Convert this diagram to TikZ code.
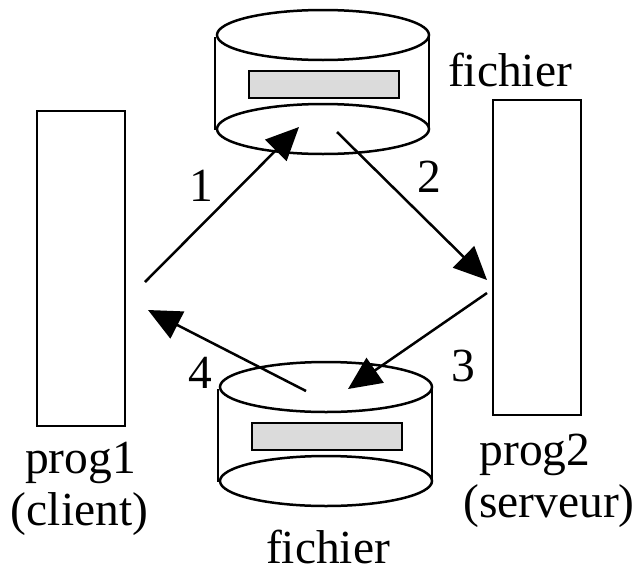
\documentclass[tikz,border=0pt]{standalone}
\usepackage{fontspec}
\setmainfont{Liberation Serif}
\usetikzlibrary{arrows.meta}

\tikzset{
	prog/.style={draw, line width=2.5, minimum width=88, minimum height=315, inner sep=0},
	lbl/.style={anchor=base, inner sep=0, font=\fontsize{47.5}{47.5}\selectfont},
	flow/.style={-{Triangle[length=33,width=30]}, line width=2.5},
}

\begin{document}
\begin{tikzpicture}[x=1pt, y=-1pt]

\useasboundingbox (0,0) rectangle (637,568);

\foreach \x/\y in {323/35, 326/387}{
	\draw[line width=2.5] (\x-108,\y+2)--(\x-108,\y+95);
	\draw[line width=2.5] (\x+106,\y+2)--(\x+106,\y+95);
	\draw[fill=white, line width=2.5] (\x,\y) ellipse (106 and 25);
	\draw[fill=white, line width=2.5] (\x,\y+94) ellipse (106 and 25);
	\draw[fill=black!14!white, line width=2.5] (\x-74,\y+36) rectangle (\x+76,\y+63);
}

\node[prog] (prog1) at (81,268.5) {};
\node[prog] (prog2) at (537,257.5) {};

\coordinate (a1) at (145,282);
\coordinate (b1) at (299,127);
\coordinate (a2) at (337,132);
\coordinate (b2) at (487,280);
\coordinate (a3) at (487,293);
\coordinate (b3) at (348,389);
\coordinate (a4) at (306,391);
\coordinate (b4) at (148,310);

\draw[flow] (a1)--(b1);
\draw[flow] (a2)--(b2);
\draw[flow] (a3)--(b3);
\draw[flow] (a4)--(b4);

\node[lbl] (n1) at (201,201) {1};
\node[lbl] (n2) at (429,192) {2};
\node[lbl] (n3) at (463,381) {3};
\node[lbl] (n4) at (200,388) {4};

\node[lbl] (fichier1) at (510,86) {fichier};
\node[lbl] (fichier2) at (328,563) {fichier};
\node[lbl] (name1) at (80.5,473) {prog1};
\node[lbl] (role1) at (79.5,525) {(client)};
\node[lbl] (name2) at (535,465) {prog2};
\node[lbl] (role2) at (549,517) {(serveur)};

\end{tikzpicture}
\end{document}
